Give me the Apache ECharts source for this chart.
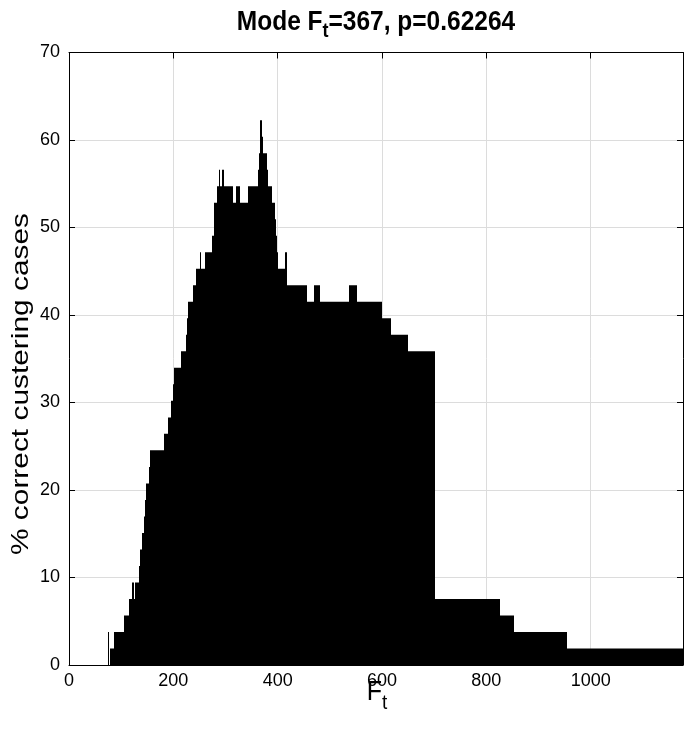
<!DOCTYPE html>
<html>
<head>
<meta charset="utf-8">
<script src="https://cdn.jsdelivr.net/npm/echarts@6/dist/echarts.min.js"></script>
<style>
  html, body { margin: 0; padding: 0; background: #ffffff; }
  #chart { width: 687px; height: 730px; }
</style>
</head>
<body>
<div id="chart"></div>
<script>
// Step profile: each bar starts at ftStart[i] and holds pctCorrect[i] until the next start.
const ftStart = [
  75, 77, 79, 85.5, 104.7, 114.2, 120.8, 124, 126.7, 133.4,
  135.3, 140, 143, 145, 147, 152.6, 155.8, 182.6, 189.6, 196,
  199.4, 200.7, 214.8, 223.4, 225.4, 227.7, 236.9, 244, 250.3, 253,
  261.3, 274.1, 277.2, 278.2, 283.7, 286.8, 290, 293.3, 297.7, 314.4,
  320.1, 328.4, 342.3, 362.3, 364.5, 366.5, 369.5, 372, 379.5, 381.5,
  389, 395.4, 397, 399, 400.5, 414.6, 417.9, 456.2, 470.2, 481.7,
  535.9, 552, 600, 617.2, 649, 702, 825.4, 852.2, 954.6
];
const pctCorrect = [
  3.77, 0, 1.89, 3.77, 5.66, 7.55, 9.43, 7.55, 9.43, 11.32,
  13.21, 15.09, 16.98, 18.87, 20.75, 22.64, 24.53, 26.42, 28.30, 30.19,
  32.08, 33.96, 35.85, 37.74, 39.62, 41.51, 43.40, 45.28, 47.17, 45.28,
  47.17, 49.06, 50.94, 52.83, 54.72, 56.60, 54.72, 56.60, 54.72, 52.83,
  54.72, 52.83, 54.72, 56.60, 58.49, 62.26, 60.38, 58.49, 56.60, 54.72,
  52.83, 50.94, 49.06, 47.17, 45.28, 47.17, 43.40, 41.51, 43.40, 41.51,
  43.40, 41.51, 39.62, 37.74, 35.85, 7.55, 5.66, 3.77, 1.89
];
const ftLastEdge = 1177;

const xTickLabels = [0, 200, 400, 600, 800, 1000];
const yTickLabels = [0, 10, 20, 30, 40, 50, 60, 70];

const FONT = '"Liberation Sans", Arial, Helvetica, sans-serif';

// [start, end, value] for every bar
const bars = ftStart.map((x, i) => [
  x,
  i + 1 < ftStart.length ? ftStart[i + 1] : ftLastEdge,
  pctCorrect[i]
]);

const GRID = { left: 69, right: 4, top: 52.5, bottom: 65 };
const boxLine = { show: true, onZero: false, lineStyle: { color: '#000', width: 1 } };
const inTick = { show: true, inside: true, length: 6, lineStyle: { color: '#000', width: 1 } };

// Text measuring, used to place subscripts next to their base text
const measureCtx = document.createElement('canvas').getContext('2d');
function textWidth(str, size, weight) {
  measureCtx.font = (weight || 'normal') + ' ' + size + 'px ' + FONT;
  return measureCtx.measureText(str).width;
}

// Builds a "base + subscript + tail" label as separate text pieces
function subscriptLabel(cx, cy, parts, stretch) {
  const [base, sub, tail] = parts;
  const wBase = textWidth(base.text, base.size, base.weight);
  const wSub = textWidth(sub.text, sub.size, base.weight);
  const wTail = tail ? textWidth(tail.text, base.size, base.weight) : 0;
  const x0 = cx - (wBase + wSub + wTail) / 2;
  const common = { fontFamily: FONT, fontWeight: base.weight || 'normal', fill: '#000', align: 'left', verticalAlign: 'middle' };
  const out = [
    { type: 'text', x: x0, y: cy, scaleY: stretch, style: Object.assign({ text: base.text, fontSize: base.size }, common) },
    { type: 'text', x: x0 + wBase, y: cy + sub.drop, scaleY: stretch, style: Object.assign({ text: sub.text, fontSize: sub.size }, common) }
  ];
  if (tail) {
    out.push({ type: 'text', x: x0 + wBase + wSub, y: cy, scaleY: stretch, style: Object.assign({ text: tail.text, fontSize: base.size }, common) });
  }
  return out;
}

const chart = echarts.init(document.getElementById('chart'), null, { renderer: 'canvas' });

const graphics = []
  .concat(subscriptLabel(376, 23, [
    { text: 'Mode F', size: 24.5, weight: 'bold' },
    { text: 't', size: 18, drop: 9 },
    { text: '=367, p=0.62264' }
  ], 1.1))
  .concat(subscriptLabel(377, 692, [
    { text: 'F', size: 25 },
    { text: 't', size: 19, drop: 11 }
  ], 1.1));

// Rotated y-axis title
graphics.push({
  type: 'text', x: 21, y: 384, rotation: Math.PI / 2, scaleX: 1.245,
  style: {
    text: '% correct custering cases',
    align: 'center', verticalAlign: 'middle',
    fontSize: 24, fontFamily: FONT, fill: '#000'
  }
});

chart.setOption({
  animation: false,
  backgroundColor: '#ffffff',
  grid: GRID,
  xAxis: [
    {
      type: 'value', position: 'bottom', min: 0, max: ftLastEdge, interval: 200,
      axisLine: boxLine, axisTick: inTick,
      axisLabel: {
        margin: 7, fontSize: 18, color: '#000', fontFamily: FONT,
        showMaxLabel: false,
        formatter: v => (xTickLabels.includes(v) ? String(v) : '')
      },
      splitLine: { show: true, lineStyle: { color: '#dcdcdc', width: 1 } }
    },
    {
      type: 'value', position: 'top', min: 0, max: ftLastEdge, interval: 200,
      axisLine: boxLine, axisTick: inTick,
      axisLabel: { show: false }, splitLine: { show: false }
    }
  ],
  yAxis: [
    {
      type: 'value', position: 'left', min: 0, max: 70, interval: 10,
      axisLine: boxLine, axisTick: inTick,
      axisLabel: {
        margin: 9, fontSize: 18, color: '#000', fontFamily: FONT,
        formatter: v => (yTickLabels.includes(v) ? String(v) : '')
      },
      splitLine: { show: true, lineStyle: { color: '#dcdcdc', width: 1 } }
    },
    {
      type: 'value', position: 'right', min: 0, max: 70, interval: 10,
      axisLine: boxLine, axisTick: inTick,
      axisLabel: { show: false }, splitLine: { show: false }
    }
  ],
  series: [
    {
      type: 'custom',
      xAxisIndex: 0, yAxisIndex: 0,
      clip: true,
      encode: { x: [0, 1], y: 2 },
      data: bars,
      renderItem: function (params, api) {
        const v = api.value(2);
        if (!(v > 0)) return null;
        const topLeft = api.coord([api.value(0), v]);
        const bottomRight = api.coord([api.value(1), 0]);
        // whole-pixel vertical edges so neighbouring bars join without seams
        const left = Math.round(topLeft[0]);
        const right = Math.round(bottomRight[0]);
        if (right <= left) return null;
        return {
          type: 'rect',
          shape: { x: left, y: topLeft[1], width: right - left, height: bottomRight[1] - topLeft[1] },
          style: { fill: '#000' }
        };
      },
      z: 1
    }
  ],
  graphic: graphics
});
</script>
</body>
</html>
